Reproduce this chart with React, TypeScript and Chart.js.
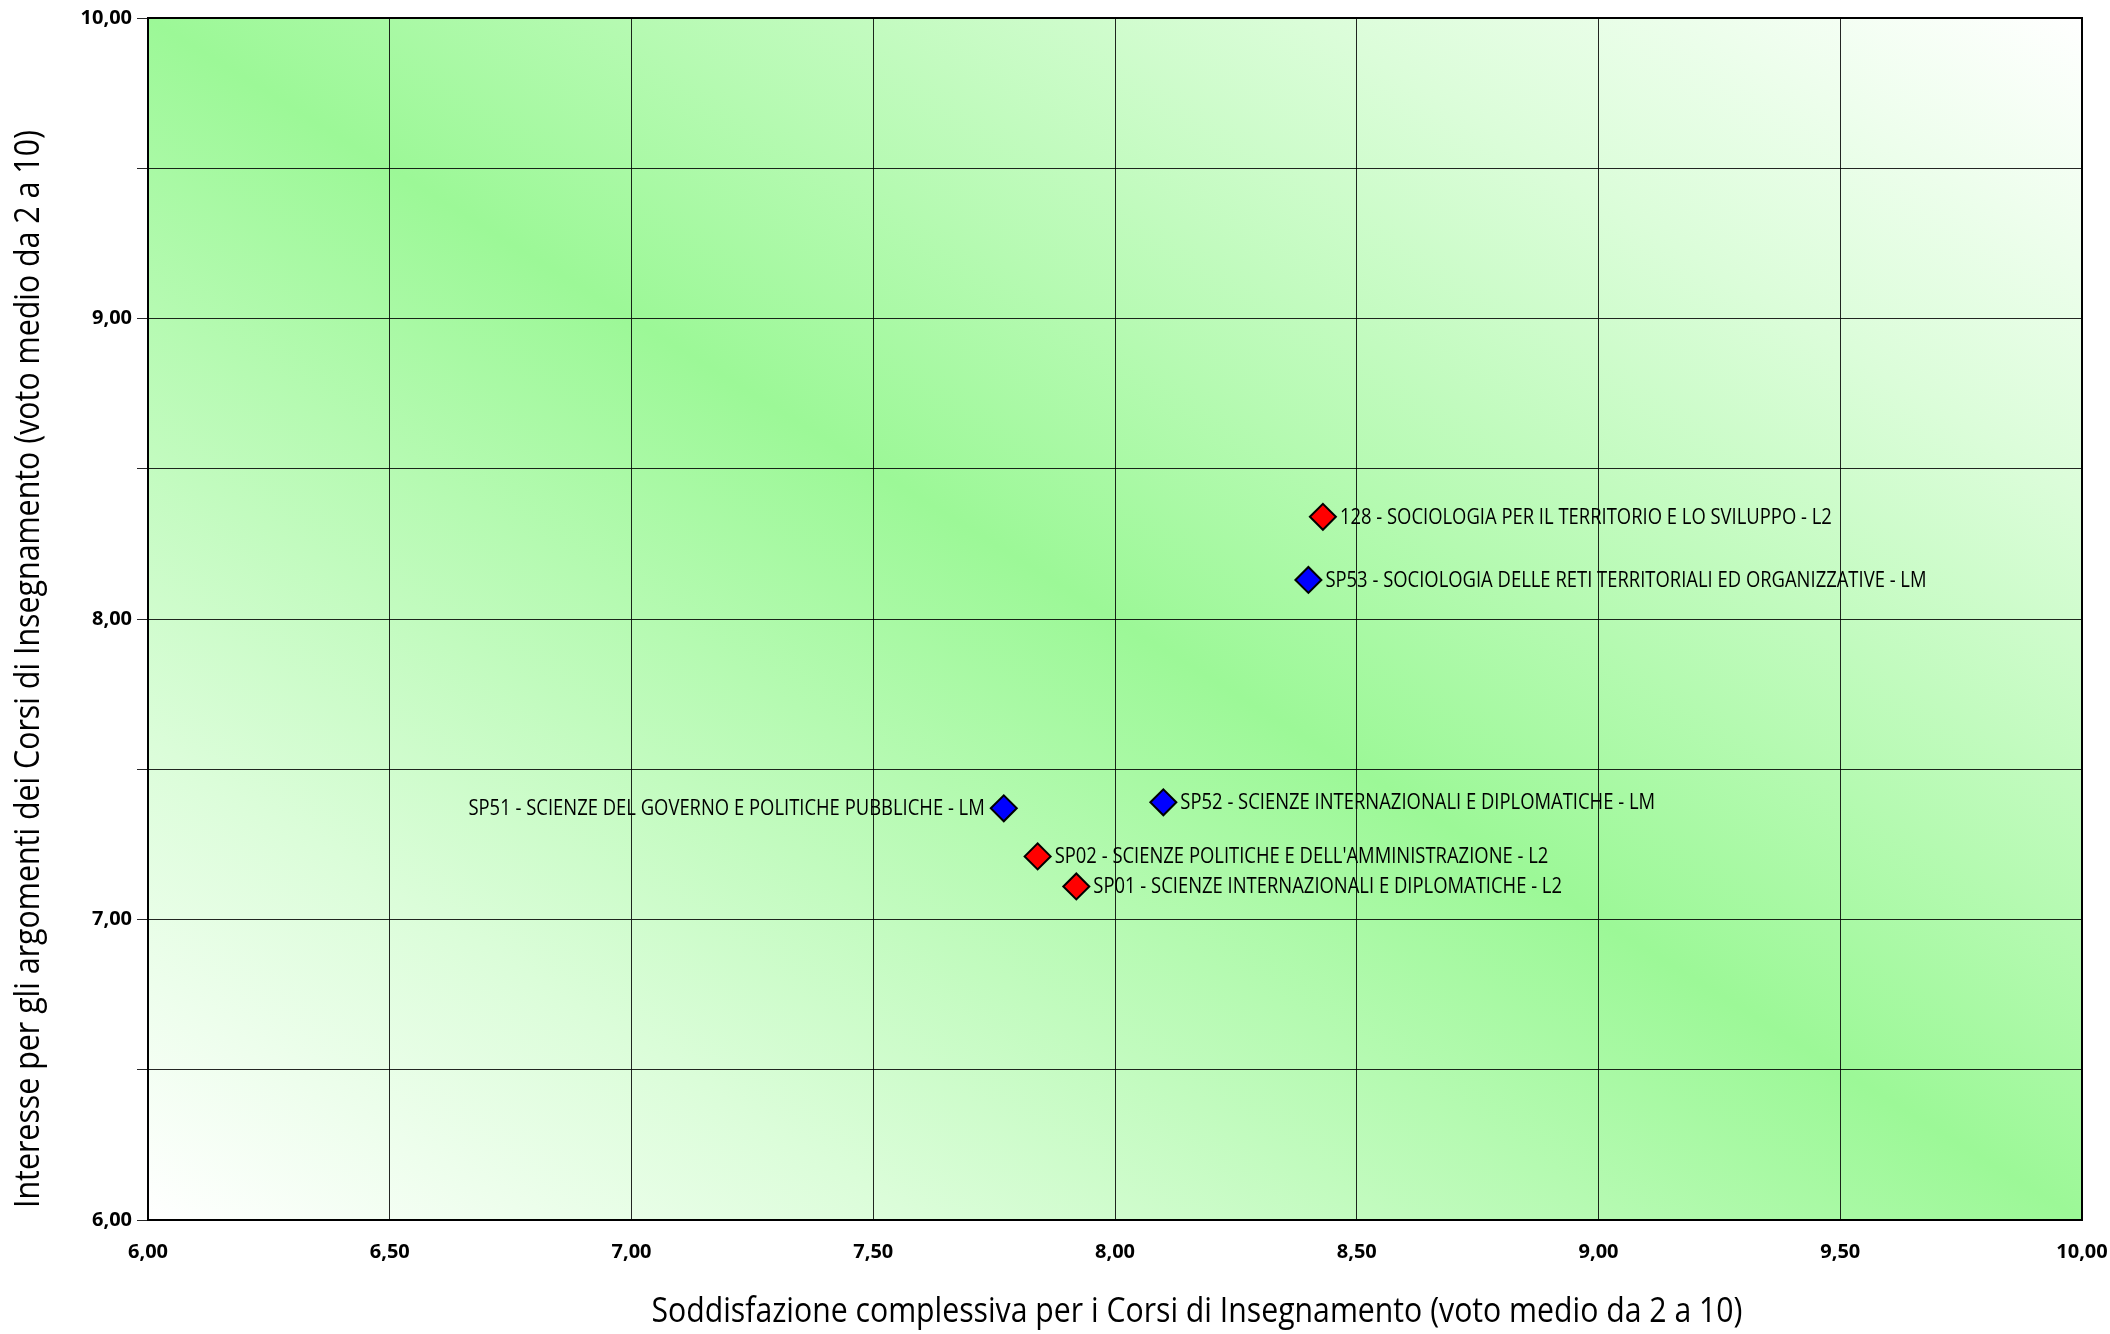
import React, { useEffect, useRef } from 'react';
import { Chart, registerables } from 'chart.js';

Chart.register(...registerables);

// ---- data ----
const l2Names = [
  '128 - SOCIOLOGIA PER IL TERRITORIO E LO SVILUPPO - L2',
  "SP02 - SCIENZE POLITICHE E DELL'AMMINISTRAZIONE - L2",
  'SP01 - SCIENZE INTERNAZIONALI E DIPLOMATICHE - L2',
];
const l2X = [8.43, 7.84, 7.92];
const l2Y = [8.34, 7.21, 7.11];

const lmNames = [
  'SP53 - SOCIOLOGIA DELLE RETI TERRITORIALI ED ORGANIZZATIVE - LM',
  'SP52 - SCIENZE INTERNAZIONALI E DIPLOMATICHE - LM',
  'SP51 - SCIENZE DEL GOVERNO E POLITICHE PUBBLICHE - LM',
];
const lmX = [8.4, 8.1, 7.77];
const lmY = [8.13, 7.39, 7.37];

const xTitle = 'Soddisfazione complessiva per i Corsi di Insegnamento (voto medio da 2 a 10)';
const yTitle = 'Interesse per gli argomenti dei Corsi di Insegnamento (voto medio da 2 a 10)';

const axisMin = 6;
const axisMax = 10;
const axisStep = 0.5;

// labels drawn on the left side of their marker
const leftLabels = new Set(['SP51 - SCIENZE DEL GOVERNO E POLITICHE PUBBLICHE - LM']);

const GREEN = '#9cf897';
const GREEN_SOFT = '#dbfdd9';
const fmt = (v: number) => Number(v).toFixed(2).replace('.', ',');

const bgPlugin = {
  id: 'bgGradient',
  beforeDraw(chart: any) {
    const { ctx, chartArea: a } = chart;
    ctx.save();
    ctx.translate(a.left, a.top);
    ctx.scale(a.right - a.left, a.bottom - a.top);
    const g = ctx.createLinearGradient(0, 1, 1, 0);
    g.addColorStop(0, '#ffffff');
    g.addColorStop(0.2, GREEN_SOFT);
    g.addColorStop(0.5, GREEN);
    g.addColorStop(0.8, GREEN_SOFT);
    g.addColorStop(1, '#ffffff');
    ctx.fillStyle = g;
    ctx.fillRect(0, 0, 1, 1);
    ctx.restore();
  },
};

const borderPlugin = {
  id: 'plotBorder',
  beforeDatasetsDraw(chart: any) {
    const { ctx, chartArea: a } = chart;
    ctx.save();
    ctx.strokeStyle = '#000';
    ctx.lineWidth = 2;
    ctx.strokeRect(a.left, a.top, a.right - a.left, a.bottom - a.top);
    ctx.restore();
  },
};

const labelPlugin = {
  id: 'pointLabels',
  afterDatasetsDraw(chart: any) {
    const { ctx } = chart;
    ctx.save();
    ctx.font = '21px "Open Sans"';
    ctx.fillStyle = '#000';
    ctx.textBaseline = 'middle';
    const k = 492 / ctx.measureText(l2Names[0]).width;
    chart.data.datasets.forEach((ds: any, di: number) => {
      const meta = chart.getDatasetMeta(di);
      meta.data.forEach((el: any, i: number) => {
        const name = ds.names[i];
        ctx.save();
        if (leftLabels.has(name)) {
          ctx.translate(el.x - 19, el.y + 1);
          ctx.scale(k, 1);
          ctx.textAlign = 'right';
        } else {
          ctx.translate(el.x + 17, el.y + 1);
          ctx.scale(k, 1);
          ctx.textAlign = 'left';
        }
        ctx.fillText(name, 0, 0);
        ctx.restore();
      });
    });
    ctx.restore();
  },
};

const drawCompressed = (ctx: any, text: string, cx: number, cy: number, targetW: number, rot: number) => {
  ctx.save();
  ctx.translate(cx, cy);
  ctx.rotate(rot);
  const w = ctx.measureText(text).width;
  ctx.scale(targetW / w, 1);
  ctx.textAlign = 'center';
  ctx.textBaseline = 'middle';
  ctx.fillText(text, 0, 0);
  ctx.restore();
};

const titlePlugin = {
  id: 'axisTitles',
  afterDraw(chart: any) {
    const { ctx } = chart;
    ctx.save();
    ctx.fillStyle = '#000';
    ctx.font = '35px "Open Sans"';
    drawCompressed(ctx, xTitle, 1197, 1312, 1091, 0);
    drawCompressed(ctx, yTitle, 29, 669, 1078, -Math.PI / 2);
    ctx.restore();
  },
};

export default function App() {
  const ref = useRef<HTMLCanvasElement>(null);
  useEffect(() => {
    document.body.style.margin = '0';
    const ctx = ref.current!.getContext('2d')!;
    const pointBase = {
      borderColor: '#000',
      borderWidth: 2,
      pointStyle: 'rectRot',
      pointRadius: 13,
      pointHoverRadius: 13,
    };
    const chart = new Chart(ctx, {
      type: 'scatter',
      data: {
        datasets: [
          {
            label: 'L2',
            data: l2X.map((x, i) => ({ x, y: l2Y[i] })),
            names: l2Names,
            backgroundColor: '#ff0000',
            ...pointBase,
          } as any,
          {
            label: 'LM',
            data: lmX.map((x, i) => ({ x, y: lmY[i] })),
            names: lmNames,
            backgroundColor: '#0000ff',
            ...pointBase,
          } as any,
        ],
      },
      options: {
        animation: false,
        responsive: false,
        events: [],
        layout: { padding: { top: 18, right: 28, left: 0, bottom: 0 } },
        plugins: {
          legend: { display: false },
          tooltip: { enabled: false },
        },
        scales: {
          x: {
            type: 'linear',
            min: axisMin,
            max: axisMax,
            ticks: {
              stepSize: axisStep,
              autoSkip: false,
              maxRotation: 0,
              padding: 20,
              color: '#000',
              font: { family: '"Open Sans"', size: 20, weight: 'bold' },
              callback: (v: any) => fmt(v),
            },
            grid: { color: 'rgba(0,0,0,0.85)', lineWidth: 1, drawTicks: false },
            border: { display: false },
            afterFit: (s: any) => {
              s.height = 114;
              s.paddingLeft = 0;
              s.paddingRight = 0;
            },
          },
          y: {
            type: 'linear',
            min: axisMin,
            max: axisMax,
            ticks: {
              stepSize: axisStep,
              autoSkip: false,
              padding: 5,
              color: '#000',
              font: { family: '"Open Sans"', size: 20, weight: 'bold' },
              callback: (v: any) => (Math.abs(v - Math.round(v)) < 1e-6 ? fmt(v) : ''),
            },
            grid: { color: 'rgba(0,0,0,0.85)', lineWidth: 1, tickLength: 11 },
            border: { display: false },
            afterFit: (s: any) => {
              s.width = 148;
              s.paddingTop = 0;
              s.paddingBottom = 0;
            },
          },
        },
      } as any,
      plugins: [bgPlugin, borderPlugin, labelPlugin, titlePlugin],
    });
    return () => chart.destroy();
  }, []);
  return (
    <div style={{ position: 'fixed', left: 0, top: 0, width: 2110, height: 1334, background: '#fff' }}>
      <canvas ref={ref} width={2110} height={1334} style={{ display: 'block' }} />
    </div>
  );
}
